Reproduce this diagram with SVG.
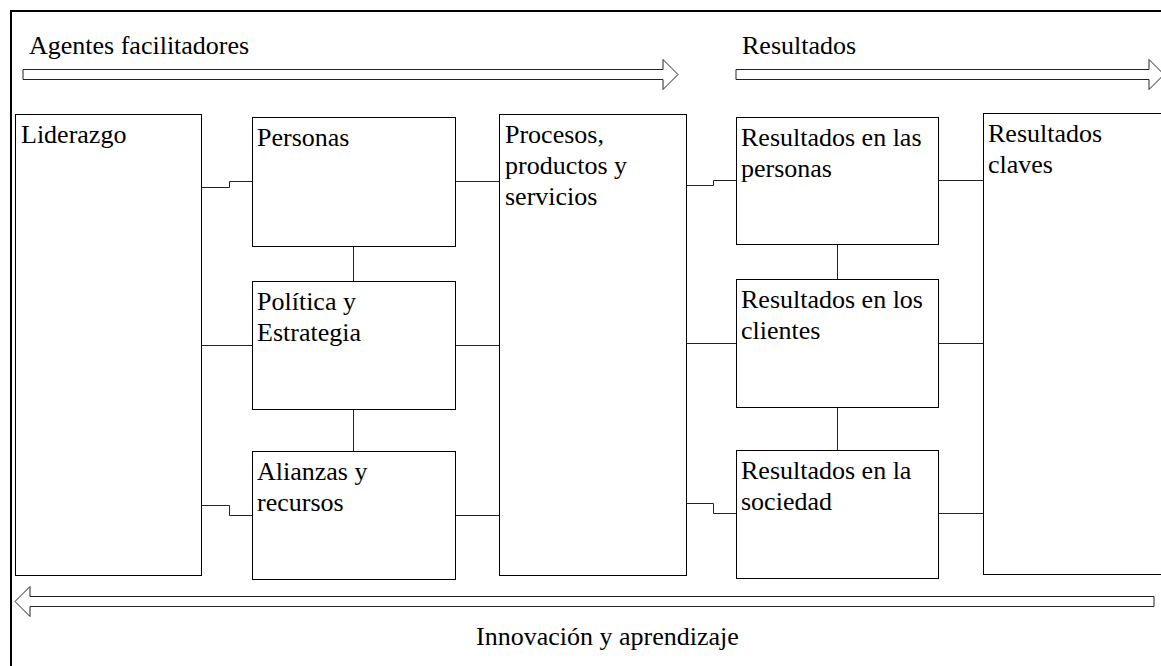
<svg xmlns="http://www.w3.org/2000/svg" width="1161" height="666" viewBox="0 0 1161 666">
<style>
.box{fill:#fff;stroke:#000;stroke-width:1}
.t{font-family:"Liberation Serif","Times New Roman",serif;font-size:26px;fill:#000}
.c{fill:none;stroke:#222;stroke-width:1}
.arr{fill:#fff;stroke:#222;stroke-width:1}
</style>
<rect x="0" y="0" width="1161" height="666" fill="#fff"/>
<rect x="11" y="11" width="1200" height="700" fill="none" stroke="#000" stroke-width="2"/>
<g id="arrow-agentes">
<polygon class="arr" points="23,69.5 663,69.5 663,59.5 678,74.5 663,89.5 663,79.5 23,79.5"/>
<text class="t" x="29" y="54">Agentes facilitadores</text>
</g>
<g id="arrow-resultados">
<polygon class="arr" points="736,69.5 1149,69.5 1149,59.5 1164,74.5 1149,89.5 1149,79.5 736,79.5"/>
<text class="t" x="742" y="54">Resultados</text>
</g>
<g id="arrow-innovacion">
<polygon class="arr" points="1154,596.5 30,596.5 30,586.5 15,601.5 30,616.5 30,606.5 1154,606.5"/>
<text class="t" x="476" y="645">Innovación y aprendizaje</text>
</g>
<g id="connectors">
<path class="c" d="M202 187.5 H229.5 V181.5 H252"/>
<path class="c" d="M455 181.5 H499"/>
<path class="c" d="M353.5 246 V281"/>
<path class="c" d="M202 345.5 H252"/>
<path class="c" d="M455 345.5 H499"/>
<path class="c" d="M353.5 409 V451"/>
<path class="c" d="M202 505.5 H229.5 V515.5 H252"/>
<path class="c" d="M455 515.5 H499"/>
<path class="c" d="M686 185.5 H713.5 V180.5 H736"/>
<path class="c" d="M938 180.5 H983"/>
<path class="c" d="M837.5 244 V279"/>
<path class="c" d="M686 343.5 H736"/>
<path class="c" d="M938 343.5 H983"/>
<path class="c" d="M837.5 407 V450"/>
<path class="c" d="M686 503.5 H713.5 V513.5 H736"/>
<path class="c" d="M938 513.5 H983"/>
</g>
<g id="liderazgo">
<rect class="box" x="15.5" y="114.5" width="186" height="461"/>
<text class="t" x="21" y="143">Liderazgo</text>
</g>
<g id="personas">
<rect class="box" x="252.5" y="117.5" width="203" height="129"/>
<text class="t" x="257" y="146">Personas</text>
</g>
<g id="politica">
<rect class="box" x="252.5" y="281.5" width="203" height="128"/>
<text class="t" x="257" y="310">Política y</text>
<text class="t" x="257" y="341">Estrategia</text>
</g>
<g id="alianzas">
<rect class="box" x="252.5" y="451.5" width="203" height="128"/>
<text class="t" x="257" y="480">Alianzas y</text>
<text class="t" x="257" y="511">recursos</text>
</g>
<g id="procesos">
<rect class="box" x="499.5" y="114.5" width="187" height="461"/>
<text class="t" x="505" y="143">Procesos,</text>
<text class="t" x="505" y="174">productos y</text>
<text class="t" x="505" y="205">servicios</text>
</g>
<g id="res-personas">
<rect class="box" x="736.5" y="117.5" width="202" height="127"/>
<text class="t" x="741" y="146">Resultados en las</text>
<text class="t" x="741" y="177">personas</text>
</g>
<g id="res-clientes">
<rect class="box" x="736.5" y="279.5" width="202" height="128"/>
<text class="t" x="741" y="308">Resultados en los</text>
<text class="t" x="741" y="339">clientes</text>
</g>
<g id="res-sociedad">
<rect class="box" x="736.5" y="450.5" width="202" height="128"/>
<text class="t" x="741" y="479">Resultados en la</text>
<text class="t" x="741" y="510">sociedad</text>
</g>
<g id="res-claves">
<rect class="box" x="983.5" y="113.5" width="220" height="461"/>
<text class="t" x="988" y="142">Resultados</text>
<text class="t" x="988" y="173">claves</text>
</g>
</svg>
